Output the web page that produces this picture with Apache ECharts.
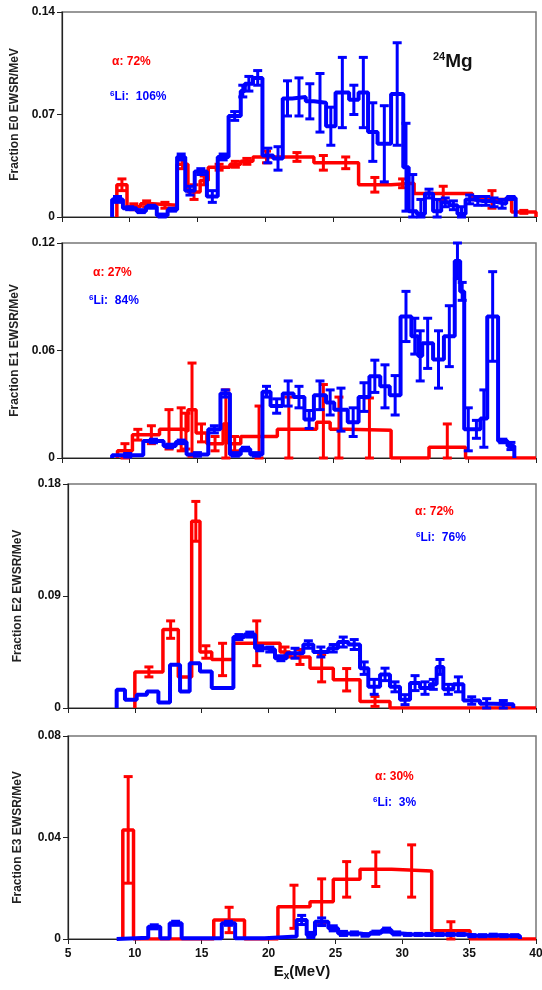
<!DOCTYPE html>
<html>
<head>
<meta charset="utf-8">
<script src="https://cdn.jsdelivr.net/npm/echarts/dist/echarts.min.js"></script>
<style>
html, body { margin: 0; padding: 0; background: #fff; }
#chart { width: 542px; height: 990px; }
</style>
</head>
<body>
<div id="chart"></div>
<script>
// ---- E0 ----
var e0RedEdges = [9.05, 9.8, 10.8, 11.7, 13.5, 14.3, 15.2, 15.8, 17.4, 18.2, 19.1, 21.1, 23.6, 25.0, 26.9, 29.3, 31.0, 35.3, 38.2, 40];
var e0RedVals  = [0.022, 0.007, 0.009, 0.008, 0.036, 0.017, 0.025, 0.034, 0.036, 0.038, 0.041, 0.041, 0.037, 0.037, 0.022, 0.023, 0.016, 0.012, 0.0035];
var e0RedErrs  = [0.004, 0.002, 0.002, 0.002, 0.003, 0.005, 0.003, 0.002, 0.002, 0.002, 0.004, 0.003, 0.005, 0.004, 0.005, 0.003, 0.005, 0.006, 0.001];
var e0BlueEdges = [8.7, 9.5, 10.5, 11.2, 12.0, 12.8, 13.5, 14.1, 14.8, 15.7, 16.5, 17.3, 18.2, 18.5, 19.1, 19.8, 20.6, 21.3, 22.0, 23.0, 23.6, 24.5, 25.2, 26.2, 26.9, 27.6, 28.3, 29.3, 30.2, 30.6, 31.2, 31.8, 32.4, 33.0, 33.6, 34.2, 34.8, 35.4, 36.0, 36.6, 37.2, 37.8, 38.5];
var e0BlueVals  = [0.012, 0.006, 0.004, 0.007, 0.001, 0.005, 0.041, 0.018, 0.031, 0.014, 0.041, 0.069, 0.086, 0.091, 0.095, 0.042, 0.040, 0.081, 0.082, 0.079, 0.078, 0.062, 0.085, 0.080, 0.085, 0.058, 0.050, 0.084, 0.034, 0.004, 0.002, 0.016, 0.004, 0.010, 0.008, 0.002, 0.012, 0.011, 0.011, 0.010, 0.009, 0.013];
var e0BlueErrs  = [0.002, 0.001, 0.001, 0.001, 0.001, 0.001, 0.002, 0.003, 0.002, 0.004, 0.002, 0.003, 0.004, 0.005, 0.005, 0.005, 0.008, 0.012, 0.013, 0.012, 0.02, 0.013, 0.024, 0.01, 0.024, 0.02, 0.026, 0.035, 0.03, 0.025, 0.01, 0.003, 0.008, 0.003, 0.003, 0.005, 0.003, 0.003, 0.003, 0.003, 0.003, 0.001];

// ---- E1 ----
var e1RedEdges = [9.1, 10.2, 11.0, 12.2, 13.6, 14.0, 14.3, 14.9, 15.7, 16.9, 17.3, 18.2, 20.9, 22.6, 23.8, 24.8, 26.1, 29.3, 32.1, 34.8, 40.0];
var e1RedVals  = [0.004, 0.013, 0.013, 0.016, 0.016, 0.015, 0.027, 0.014, 0.008, 0.019, 0.008, 0.012, 0.016, 0.016, 0.020, 0.016, 0.0155, 0, 0.006, 0];
var e1RedErrs  = [0.004, 0.003, 0.005, 0.011, 0.012, 0.010, 0.026, 0.005, 0.004, 0.019, 0.004, 0.017, 0.018, 0, 0.021, 0.018, 0.018, 0, 0.013, 0];
var e1BlueEdges = [8.7, 11.0, 12.5, 13.4, 14.2, 15.8, 16.7, 17.4, 18.2, 18.9, 19.8, 20.4, 21.3, 22.1, 22.9, 23.6, 24.5, 25.1, 26.1, 26.9, 27.7, 28.5, 29.2, 30.0, 30.8, 31.3, 31.6, 32.4, 33.2, 34.0, 34.4, 34.7, 35.3, 35.9, 36.4, 37.2, 37.9, 38.4];
var e1BlueVals  = [0.0015, 0.0095, 0.0067, 0.009, 0.002, 0.016, 0.036, 0.002, 0.005, 0.002, 0.037, 0.029, 0.036, 0.034, 0.0215, 0.035, 0.031, 0.027, 0.020, 0.034, 0.0456, 0.040, 0.035, 0.079, 0.068, 0.057, 0.064, 0.055, 0.068, 0.110, 0.093, 0.016, 0.016, 0.022, 0.079, 0.0095, 0.0067];
var e1BlueErrs  = [0.001, 0.001, 0.001, 0.001, 0.001, 0.002, 0.002, 0.001, 0.001, 0.001, 0.003, 0.004, 0.007, 0.006, 0.005, 0.008, 0.007, 0.012, 0.008, 0.008, 0.009, 0.012, 0.011, 0.014, 0.010, 0.014, 0.014, 0.016, 0.017, 0.010, 0.005, 0.012, 0.005, 0.016, 0.025, 0.001, 0.002];

// ---- E2 ----
var e2RedEdges = [10.0, 12.1, 13.25, 14.25, 14.87, 15.75, 17.37, 20.86, 21.6, 23.1, 24.84, 26.84, 29.08, 40.0];
var e2RedVals  = [0.029, 0.063, 0.025, 0.150, 0.045, 0.039, 0.052, 0.045, 0.041, 0.032, 0.0227, 0.0053, 0];
var e2RedErrs  = [0.004, 0.007, 0, 0.016, 0.005, 0.013, 0.018, 0.004, 0.006, 0.011, 0.009, 0.004, 0];
var e2BlueEdges = [8.64, 9.26, 10.14, 10.9, 11.76, 12.63, 13.38, 14.1, 14.87, 15.75, 17.37, 18.2, 18.99, 19.7, 20.48, 21.36, 22.6, 23.35, 24.47, 25.2, 25.97, 26.84, 27.46, 28.34, 29.08, 29.83, 30.58, 31.33, 32.07, 32.57, 33.07, 33.82, 34.57, 35.81, 36.81, 38.3];
var e2BlueVals  = [0.0147, 0.0067, 0.0107, 0.0133, 0.0045, 0.0347, 0.0133, 0.036, 0.0294, 0.016, 0.057, 0.059, 0.048, 0.047, 0.040, 0.044, 0.051, 0.045, 0.048, 0.053, 0.051, 0.032, 0.017, 0.027, 0.017, 0.0067, 0.020, 0.016, 0.019, 0.033, 0.015, 0.019, 0.006, 0.0035, 0.003];
var e2BlueErrs  = [0, 0, 0, 0, 0, 0, 0, 0, 0, 0, 0.002, 0.002, 0.002, 0.002, 0.002, 0.004, 0.003, 0.004, 0.003, 0.004, 0.004, 0.005, 0.006, 0.005, 0.004, 0.004, 0.006, 0.005, 0.004, 0.006, 0.004, 0.006, 0.003, 0.004, 0.003];

// ---- E3 ----
var e3RedEdges = [9.1, 9.9, 15.9, 18.2, 20.7, 23.1, 24.84, 26.84, 29.2, 32.2, 35.07, 40];
var e3RedVals  = [0.043, 0, 0.0075, 0, 0.0127, 0.0147, 0.0235, 0.0275, 0.0268, 0.0033, 0];
var e3RedErrs  = [0.021, 0, 0.005, 0, 0.0085, 0.009, 0.007, 0.0068, 0.0103, 0.0035, 0];
var e3BlueEdges = [8.64, 11.0, 11.9, 12.6, 13.5, 16.5, 17.5, 19.7, 22.1, 22.85, 23.47, 24.47, 25.2, 26.0, 26.84, 27.59, 28.46, 29.2, 29.96, 30.8, 31.6, 32.4, 33.2, 34.0, 34.8, 35.6, 36.4, 37.2, 38.0, 38.8];
var e3BlueVals  = [0.0005, 0.0048, 0.0003, 0.0062, 0.0003, 0.0062, 0.0003, 0.0010, 0.0075, 0.0016, 0.0068, 0.0042, 0.0022, 0.0022, 0.0016, 0.0025, 0.0035, 0.0022, 0.0018, 0.0018, 0.0018, 0.0018, 0.0018, 0.0018, 0.0013, 0.0013, 0.0015, 0.0013, 0.0013];
var e3BlueErrs  = [0, 0.0008, 0, 0.0008, 0, 0.0008, 0, 0, 0.0018, 0.001, 0.0015, 0.001, 0.0008, 0.0006, 0.0005, 0.0006, 0.0008, 0.0006, 0.0004, 0.0004, 0.0004, 0.0004, 0.0004, 0.0004, 0.0004, 0.0004, 0.0004, 0.0004, 0.0004];

// axes
var xTicks = [5, 40, 5];
var yMax  = [0.14, 0.12, 0.18, 0.08];
var yStep = [0.07, 0.06, 0.09, 0.04];
var yNames = ['Fraction E0 EWSR/MeV', 'Fraction E1 EWSR/MeV', 'Fraction E2 EWSR/MeV', 'Fraction E3 EWSR/MeV'];
var alphaText = ['α: 72%', 'α: 27%', 'α: 72%', 'α: 30%'];
var liText = ['Li:  106%', 'Li:  84%', 'Li:  76%', 'Li:  3%'];

var RED = '#ff0000', BLUE = '#0000ff';
var FONT = 'Liberation Sans, Arial, sans-serif';

var grids = [
  { left: 62, top: 12, right: 6, height: 205 },
  { left: 62, top: 243, right: 6, height: 215 },
  { left: 68, top: 484, right: 6, height: 224 },
  { left: 68, top: 736, right: 6, height: 203 }
];

function stepData(edges, vals) {
  var pts = [[edges[0], 0]];
  for (var i = 0; i < vals.length; i++) pts.push([edges[i], vals[i]]);
  pts.push([edges[edges.length - 1], vals[vals.length - 1]]);
  pts.push([edges[edges.length - 1], 0]);
  return pts;
}

function errData(edges, vals, errs) {
  var out = [];
  for (var i = 0; i < vals.length; i++) {
    if (errs[i] > 0) {
      out.push([(edges[i] + edges[i + 1]) / 2, Math.max(0, vals[i] - errs[i]), vals[i] + errs[i]]);
    }
  }
  return out;
}

function errRender(color) {
  return function (params, api) {
    var x = api.value(0);
    var lo = api.coord([x, api.value(1)]);
    var hi = api.coord([x, api.value(2)]);
    var cap = 4.5;
    var st = { stroke: color, lineWidth: 3 };
    return {
      type: 'group',
      children: [
        { type: 'line', shape: { x1: lo[0], y1: lo[1], x2: hi[0], y2: hi[1] }, style: st },
        { type: 'line', shape: { x1: lo[0] - cap, y1: lo[1], x2: lo[0] + cap, y2: lo[1] }, style: st },
        { type: 'line', shape: { x1: hi[0] - cap, y1: hi[1], x2: hi[0] + cap, y2: hi[1] }, style: st }
      ]
    };
  };
}

var panels = [
  [e0RedEdges, e0RedVals, e0RedErrs, e0BlueEdges, e0BlueVals, e0BlueErrs],
  [e1RedEdges, e1RedVals, e1RedErrs, e1BlueEdges, e1BlueVals, e1BlueErrs],
  [e2RedEdges, e2RedVals, e2RedErrs, e2BlueEdges, e2BlueVals, e2BlueErrs],
  [e3RedEdges, e3RedVals, e3RedErrs, e3BlueEdges, e3BlueVals, e3BlueErrs]
];

var xAxes = [], yAxes = [], series = [];
for (var p = 0; p < 4; p++) {
  grids[p].show = true;
  grids[p].borderColor = '#777';
  grids[p].borderWidth = 1.5;
  grids[p].containLabel = false;
  grids[p].outerBoundsMode = 'none';
  var last = p === 3;
  xAxes.push({
    gridIndex: p, type: 'value', min: xTicks[0], max: xTicks[1], interval: xTicks[2],
    axisLine: { lineStyle: { color: '#222', width: 1.2 } },
    axisTick: { length: 5, lineStyle: { color: '#222' } },
    axisLabel: { show: last, fontSize: 12, fontWeight: 'bold', color: '#111', fontFamily: FONT, margin: 9 },
    splitLine: { show: false },
    name: last ? '{b|E}{s|x}{b|(MeV)}' : '',
    nameLocation: 'middle', nameGap: 24,
    nameTextStyle: {
      rich: {
        b: { fontSize: 15, fontWeight: 'bold', color: '#111', fontFamily: FONT },
        s: { fontSize: 10, fontWeight: 'bold', color: '#111', fontFamily: FONT, padding: [8, 0, 0, 0] }
      }
    }
  });
  yAxes.push({
    gridIndex: p, type: 'value', min: 0, max: yMax[p], interval: yStep[p],
    name: yNames[p], nameLocation: 'middle', nameGap: p < 2 ? 40 : 44,
    nameTextStyle: { fontSize: 12, fontWeight: 'bold', color: '#222', fontFamily: FONT },
    axisLine: { show: true, lineStyle: { color: '#222', width: 1.2 } },
    axisTick: { show: true, length: 5, lineStyle: { color: '#222' } },
    axisLabel: { fontSize: 12, fontWeight: 'bold', color: '#111', fontFamily: FONT, margin: 7 },
    splitLine: { show: false }
  });
  var d = panels[p];
  series.push({
    type: 'line', xAxisIndex: p, yAxisIndex: p, step: 'end', symbol: 'none',
    data: stepData(d[0], d[1]), lineStyle: { color: RED, width: 3.5 }, z: 2, silent: true, animation: false
  });
  series.push({
    type: 'custom', xAxisIndex: p, yAxisIndex: p, renderItem: errRender(RED),
    data: errData(d[0], d[1], d[2]), encode: { x: 0, y: [1, 2] }, z: 3, silent: true, animation: false
  });
  series.push({
    type: 'line', xAxisIndex: p, yAxisIndex: p, step: 'end', symbol: 'none',
    data: stepData(d[3], d[4]), lineStyle: { color: BLUE, width: 4 }, z: 4, silent: true, animation: false
  });
  series.push({
    type: 'custom', xAxisIndex: p, yAxisIndex: p, renderItem: errRender(BLUE),
    data: errData(d[3], d[4], d[5]), encode: { x: 0, y: [1, 2] }, z: 5, silent: true, animation: false
  });
}

// annotation positions (pixels)
var alphaPos = [[112, 62], [93, 273], [415, 512], [375, 777]];
var liPos = [[110, 97], [89, 301], [416, 538], [373, 803]];

var graphics = [];
for (var k = 0; k < 4; k++) {
  graphics.push({
    type: 'text', x: alphaPos[k][0], y: alphaPos[k][1], z: 20,
    style: { text: alphaText[k], fill: RED, font: 'bold 12px ' + FONT, verticalAlign: 'middle' }
  });
  graphics.push({
    type: 'text', x: liPos[k][0], y: liPos[k][1], z: 20,
    style: {
      text: '{s|6}{b|' + liText[k] + '}', verticalAlign: 'middle',
      rich: {
        s: { fill: BLUE, fontSize: 8, fontWeight: 'bold', fontFamily: FONT, verticalAlign: 'top', lineHeight: 14 },
        b: { fill: BLUE, fontSize: 12, fontWeight: 'bold', fontFamily: FONT, lineHeight: 14 }
      }
    }
  });
}
graphics.push({
  type: 'text', x: 433, y: 62, z: 20,
  style: {
    text: '{s|24}{b|Mg}', verticalAlign: 'middle',
    rich: {
      s: { fill: '#111', fontSize: 11, fontWeight: 'bold', fontFamily: FONT, verticalAlign: 'top', lineHeight: 22 },
      b: { fill: '#111', fontSize: 19, fontWeight: 'bold', fontFamily: FONT, lineHeight: 22 }
    }
  }
});

var chart = echarts.init(document.getElementById('chart'), null, { renderer: 'canvas' });
chart.setOption({
  animation: false,
  backgroundColor: '#fff',
  grid: grids,
  xAxis: xAxes,
  yAxis: yAxes,
  series: series,
  graphic: graphics
});
</script>
</body>
</html>
